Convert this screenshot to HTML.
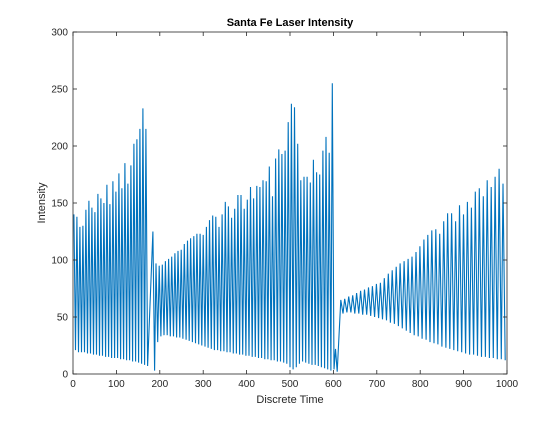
<!DOCTYPE html>
<html><head><meta charset="utf-8">
<style>
body{margin:0;background:#fff;}
svg text{font-family:"Liberation Sans",Arial,sans-serif;}
</style></head>
<body>
<svg id="chart" width="560" height="420" viewBox="0 0 560 420" xmlns="http://www.w3.org/2000/svg">
<rect width="560" height="420" fill="#fff"/>
<g id="plot"></g>
<g id="axes"></g>
<text x="290" y="26" text-anchor="middle" font-size="11" font-weight="bold" fill="#000">Santa Fe Laser Intensity</text>
<text x="290" y="403" text-anchor="middle" font-size="11" fill="#262626">Discrete Time</text>
<text transform="translate(45,203) rotate(-90)" text-anchor="middle" font-size="11" fill="#262626">Intensity</text>
</svg>
<script>
const xTicks=[0,100,200,300,400,500,600,700,800,900,1000];
const yTicks=[0,50,100,150,200,250,300];
const segStart=[2,184,617];
const segEnd=[175,612,1000];
const peaks1=[140,138,129,130,144,152,146,142,158,154,150,166,149,169,160,176,163,185,167,183,202,206,215,233,215];
const troughs1=[21,19,19,19,18,18,17,17,16,16,15,15,14,14,14,13,13,12,12,11,11,10,9,8,7];
const peaks2=[125,97,95,96,99,101,103,106,108,109,114,117,119,121,123,123,122,129,135,139,138,129,140,151,147,137,145,157,157,145,153,164,154,165,164,170,169,182,156,189,197,193,196,221,237,234,202,170,173,173,168,188,177,175,196,208,194,255,22];
const troughs2=[3,28,33,34,34,33,33,32,32,31,30,29,28,27,26,25,24,23,22,21,21,20,20,19,19,18,18,17,17,16,16,15,15,14,14,13,13,12,12,11,11,10,9,6,4,6,9,11,10,9,8,8,7,6,5,4,3,4,2];
const peaks3=[65,66,68,69,71,73,74,76,77,79,80,84,88,91,94,97,99,101,103,107,112,118,122,126,127,123,134,141,141,134,148,140,151,146,160,163,156,170,164,173,180,167];
const troughs3=[53,54,54,53,53,52,52,51,50,49,48,47,45,44,42,40,38,36,34,33,31,30,28,27,26,24,23,22,21,20,19,18,17,17,16,15,15,14,14,13,13,12];

const L=73,R=507,T=32,B=374;
const xs=v=>L+(v-0)/(1000)*(R-L);
const ys=v=>B-(v/300)*(B-T);
const NS="http://www.w3.org/2000/svg";
const plot=document.getElementById('plot'), axes=document.getElementById('axes');

function segPoints(start,end,pk,tr){
  const n=Math.min(pk.length,tr.length);
  const per=(end-start)/n;
  const pts=[];
  for(let i=0;i<n;i++){
    const t=start+i*per;
    pts.push([xs(t),ys(pk[i])]);
    pts.push([xs(t+per*0.55),ys(tr[i])]);
  }
  return pts;
}
let pts=[].concat(segPoints(segStart[0],segEnd[0],peaks1,troughs1),
                  segPoints(segStart[1],segEnd[1],peaks2,troughs2),
                  segPoints(segStart[2],segEnd[2],peaks3,troughs3));
const line=document.createElementNS(NS,'polyline');


line.setAttribute('points',pts.map(p=>p[0].toFixed(1)+','+p[1].toFixed(1)).join(' '));
line.setAttribute('fill','none');
line.setAttribute('stroke','#0072BD');
line.setAttribute('stroke-width','1.1');
plot.appendChild(line);

const frame=document.createElementNS(NS,'rect');


frame.setAttribute('x',L);frame.setAttribute('y',T);
frame.setAttribute('width',R-L);frame.setAttribute('height',B-T);
frame.setAttribute('fill','none');frame.setAttribute('stroke','#262626');frame.setAttribute('stroke-width','0.8');
axes.appendChild(frame);

xTicks.forEach(v=>{
  const x=xs(v);
  for(const [y1,y2] of [[B,B-4],[T,T+4]]){
    const l=document.createElementNS(NS,'line');
    
    
    l.setAttribute('x1',x);l.setAttribute('x2',x);l.setAttribute('y1',y1);l.setAttribute('y2',y2);
    l.setAttribute('stroke','#262626');l.setAttribute('stroke-width','0.8');
    axes.appendChild(l);
  }
  const t=document.createElementNS(NS,'text');
  
  
  t.setAttribute('x',x);t.setAttribute('y',B+13);
  t.setAttribute('text-anchor','middle');t.setAttribute('font-size','10');t.setAttribute('fill','#262626');
  t.textContent=v;axes.appendChild(t);
});
yTicks.forEach(v=>{
  const y=ys(v);
  for(const [x1,x2] of [[L,L+4],[R,R-4]]){
    const l=document.createElementNS(NS,'line');
    
    
    l.setAttribute('x1',x1);l.setAttribute('x2',x2);l.setAttribute('y1',y);l.setAttribute('y2',y);
    l.setAttribute('stroke','#262626');l.setAttribute('stroke-width','0.8');
    axes.appendChild(l);
  }
  const t=document.createElementNS(NS,'text');
  
  
  t.setAttribute('x',L-5);t.setAttribute('y',y+3.5);
  t.setAttribute('text-anchor','end');t.setAttribute('font-size','10');t.setAttribute('fill','#262626');
  t.textContent=v;axes.appendChild(t);
});
</script>
</body></html>
